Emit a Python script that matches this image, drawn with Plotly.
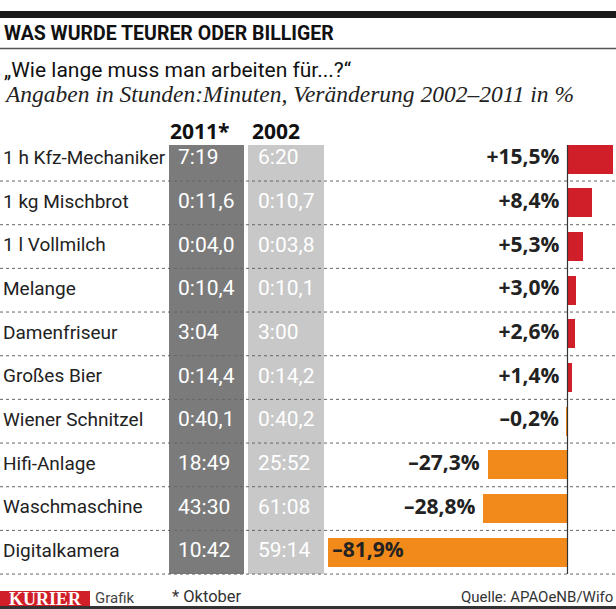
import plotly.graph_objects as go

# ---------------- data ----------------
items = ["1 h Kfz-Mechaniker", "1 kg Mischbrot", "1 l Vollmilch", "Melange",
         "Damenfriseur", "Großes Bier", "Wiener Schnitzel", "Hifi-Anlage",
         "Waschmaschine", "Digitalkamera"]
val_2011 = ["7:19", "0:11,6", "0:04,0", "0:10,4", "3:04", "0:14,4", "0:40,1",
            "18:49", "43:30", "10:42"]
val_2002 = ["6:20", "0:10,7", "0:03,8", "0:10,1", "3:00", "0:14,2", "0:40,2",
            "25:52", "61:08", "59:14"]
change = [15.5, 8.4, 5.3, 3.0, 2.6, 1.4, -0.2, -27.3, -28.8, -81.9]
col_headers = ["2011*", "2002"]

title = "WAS WURDE TEURER ODER BILLIGER"
subtitle = "„Wie lange muss man arbeiten für...?“"
subtitle2 = "Angaben in Stunden:Minuten, Veränderung 2002–2011 in %"
footnote = "* Oktober"
source = "Quelle: APAOeNB/Wifo"

# ---------------- styling ----------------
W, H = 616, 609
COND = "Roboto, Liberation Sans, sans-serif"
BOLD = "Open Sans, DejaVu Sans, sans-serif"
SERIF = "Liberation Serif, DejaVu Serif, serif"
RED = "#d01f29"
ORANGE = "#f28a1b"
DARK_COL = "#7b7b7b"
LIGHT_COL = "#c8c8c8"
TXT = "#222222"

PX_PER_PCT = 2.92
ZERO_PX = 567.5
ROW0 = 159.2
ROW_H = 43.67


def fx(p):
    return p / W


def fy(p):
    return 1 - p / H


def row_val(p):
    return (p - ROW0) / ROW_H


def fmt(v):
    s = f"{abs(v):.1f}".replace(".", ",")
    return ("+" if v > 0 else "–") + s + "%"


colors = [RED if v > 0 else ORANGE for v in change]
gap = 8 / PX_PER_PCT
pct_x, pct_pos = [], []
for v in change:
    if v < -50:
        pct_x.append(v + 1.3)
        pct_pos.append("middle right")
    else:
        pct_x.append(min(v, 0) - gap)
        pct_pos.append("middle left")

fig = go.Figure()

fig.add_trace(go.Bar(
    x=change, y=items, orientation="h", marker=dict(color=colors, line=dict(width=0)),
    width=0.66, xaxis="x", yaxis="y", hoverinfo="skip", showlegend=False))

fig.add_trace(go.Scatter(
    x=pct_x, y=items, mode="text", text=[fmt(v) for v in change],
    textposition=pct_pos, textfont=dict(family=BOLD, size=21, color=TXT, weight=700),
    xaxis="x", yaxis="y", hoverinfo="skip", showlegend=False))

fig.add_trace(go.Scatter(
    x=[3] * len(items), y=items, mode="text", text=items, textposition="middle right",
    textfont=dict(family=COND, size=19, color=TXT),
    xaxis="x2", yaxis="y", hoverinfo="skip", showlegend=False))

fig.add_trace(go.Scatter(
    x=[178] * len(items), y=items, mode="text", text=val_2011, textposition="middle right",
    textfont=dict(family=COND, size=21, color="white"),
    xaxis="x2", yaxis="y", hoverinfo="skip", showlegend=False))

fig.add_trace(go.Scatter(
    x=[258] * len(items), y=items, mode="text", text=val_2002, textposition="middle right",
    textfont=dict(family=COND, size=21, color="white"),
    xaxis="x2", yaxis="y", hoverinfo="skip", showlegend=False))

shapes = []
# top black bar and rule under title
shapes.append(dict(type="rect", xref="paper", yref="paper", x0=0, x1=1,
                   y0=fy(18), y1=fy(11), fillcolor="#1a1a1a", line=dict(width=0)))
shapes.append(dict(type="line", xref="paper", yref="paper", x0=0, x1=1,
                   y0=fy(48.5), y1=fy(48.5), line=dict(color="#555555", width=1.5)))
# grey columns
top_v = row_val(145)
bot_v = len(items) - 0.5
shapes.append(dict(type="rect", xref="x2", yref="y", x0=169, x1=244, y0=top_v, y1=bot_v,
                   fillcolor=DARK_COL, line=dict(width=0), layer="below"))
shapes.append(dict(type="rect", xref="x2", yref="y", x0=248, x1=324, y0=top_v, y1=bot_v,
                   fillcolor=LIGHT_COL, line=dict(width=0), layer="below"))
# dotted row separators
for i in range(len(items)):
    shapes.append(dict(type="line", xref="paper", yref="y", x0=0, x1=1,
                       y0=i + 0.5, y1=i + 0.5,
                       line=dict(color="#666666", width=1, dash="dot")))
# zero line
shapes.append(dict(type="line", xref="x", yref="y", x0=0, x1=0, y0=top_v, y1=bot_v,
                   line=dict(color="#333333", width=1.2)))
# footer
shapes.append(dict(type="rect", xref="paper", yref="paper", x0=0, x1=1,
                   y0=fy(609), y1=fy(606), fillcolor="#333333", line=dict(width=0)))
shapes.append(dict(type="rect", xref="paper", yref="paper", x0=fx(0), x1=fx(90),
                   y0=fy(606), y1=fy(591), fillcolor=RED, line=dict(width=0)))

annotations = [
    dict(text=title, x=fx(2), y=fy(33), xanchor="left", yanchor="middle",
         font=dict(family=COND, size=19.5, color="#111111", weight=700)),
    dict(text=subtitle, x=fx(2), y=fy(70), xanchor="left", yanchor="middle",
         font=dict(family=COND, size=21, color="#111111")),
    dict(text=subtitle2, x=fx(2), y=fy(94), xanchor="left", yanchor="middle",
         font=dict(family=SERIF, size=23.5, color="#222222", style="italic")),
    dict(text="KURIER", x=fx(45), y=fy(599), xanchor="center", yanchor="middle",
         font=dict(family=SERIF, size=18, color="white", weight=700)),
    dict(text="Grafik", x=fx(93), y=fy(598), xanchor="left", yanchor="middle",
         font=dict(family=COND, size=15, color="#444444")),
    dict(text=footnote, x=fx(170), y=fy(596), xanchor="left", yanchor="middle",
         font=dict(family=COND, size=16.5, color="#333333")),
    dict(text=source, x=fx(615), y=fy(597), xanchor="right", yanchor="middle",
         font=dict(family=COND, size=15, color="#333333")),
]
hdr_x = [199, 276]
for h, xh in zip(col_headers, hdr_x):
    annotations.append(dict(text=h, xref="x2", yref="y", x=xh, y=row_val(131),
                            xanchor="center", yanchor="middle",
                            font=dict(family=BOLD, size=21, color="#111111", weight=700)))
for a in annotations:
    a.setdefault("xref", "paper")
    a.setdefault("yref", "paper")
    a["showarrow"] = False

x_lo = -ZERO_PX / PX_PER_PCT
x_hi = (W - ZERO_PX) / PX_PER_PCT

fig.update_layout(
    width=W, height=H, margin=dict(l=0, r=0, t=0, b=0),
    paper_bgcolor="white", plot_bgcolor="white",
    xaxis=dict(range=[x_lo, x_hi], domain=[0, 1], visible=False, fixedrange=True),
    xaxis2=dict(range=[0, W], overlaying="x", visible=False, fixedrange=True),
    yaxis=dict(type="category", categoryorder="array", categoryarray=items,
               range=[row_val(H), row_val(0)], visible=False, fixedrange=True),
    shapes=shapes, annotations=annotations, bargap=0, showlegend=False,
)

fig.write_html("out.html", config={"displayModeBar": False},
               post_script="document.body.style.margin='0';document.body.style.overflow='hidden';")
